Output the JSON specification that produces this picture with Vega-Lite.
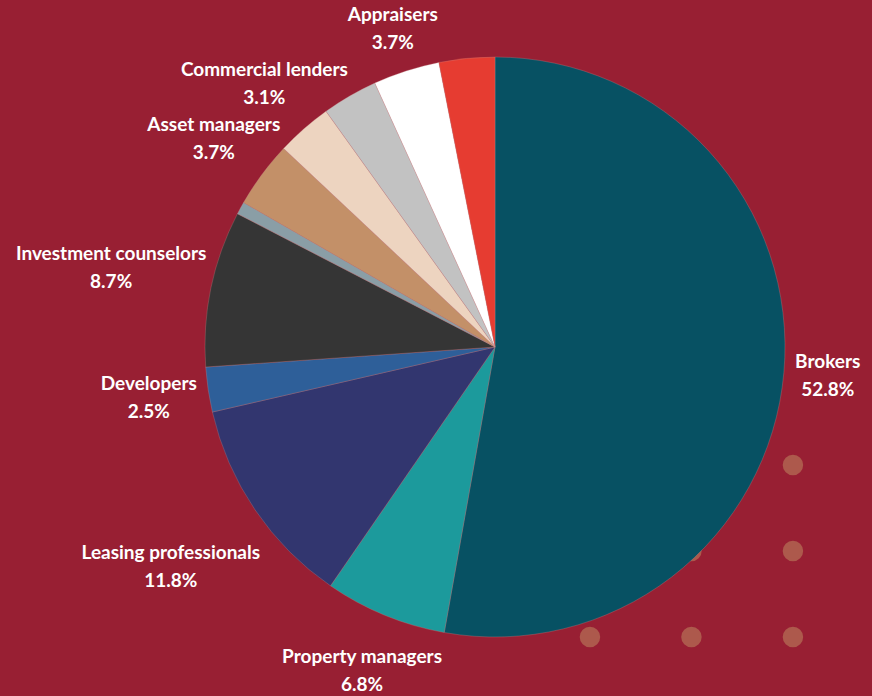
{
  "$schema": "https://vega.github.io/schema/vega-lite/v6.json",
  "width": 754,
  "height": 694,
  "autosize": {"type": "none"},
  "padding": {"left": 118, "top": 0, "right": 0, "bottom": 2},
  "background": "#981f33",
  "config": {"view": {"stroke": null}, "text": {"font": "Lato", "fontWeight": "bold", "fontSize": 19, "color": "#ffffff"}},
  "datasets": {
    "shares": [
      {"category": "Brokers", "share": 0.528, "rank": 1},
      {"category": "Property managers", "share": 0.068, "rank": 2},
      {"category": "Leasing professionals", "share": 0.118, "rank": 3},
      {"category": "Developers", "share": 0.025, "rank": 4},
      {"category": "Investment counselors", "share": 0.087, "rank": 5},
      {"category": "Unlabeled A", "share": 0.007, "rank": 6},
      {"category": "Asset managers", "share": 0.037, "rank": 7},
      {"category": "Commercial lenders", "share": 0.031, "rank": 8},
      {"category": "Unlabeled B", "share": 0.031, "rank": 9},
      {"category": "Appraisers", "share": 0.037, "rank": 10},
      {"category": "Unlabeled C", "share": 0.031, "rank": 11}
    ],
    "dots": [
      {"col": 0, "row": 0}, {"col": 1, "row": 0}, {"col": 2, "row": 0},
      {"col": 1, "row": 1}, {"col": 2, "row": 1},
      {"col": 1, "row": 2}, {"col": 2, "row": 2}
    ]
  },
  "layer": [
    {
      "data": {"name": "dots"},
      "mark": {"type": "point", "filled": true, "size": 420, "opacity": 1, "color": "#ad594c"},
      "encoding": {
        "x": {"field": "col", "type": "quantitative", "scale": {"domain": [-4.65, 2.779]}, "axis": null},
        "y": {"field": "row", "type": "quantitative", "scale": {"domain": [-0.663, 7.407]}, "axis": null}
      }
    },
    {
      "data": {"name": "shares"},
      "encoding": {
        "theta": {"field": "share", "type": "quantitative", "stack": true},
        "order": {"field": "rank", "type": "quantitative"}
      },
      "layer": [
        {
          "mark": {"type": "arc", "radius": 290, "stroke": "#c98a8a", "strokeWidth": 0.3},
          "encoding": {
            "color": {
              "field": "category", "type": "nominal", "legend": null,
              "scale": {
                "domain": ["Brokers", "Property managers", "Leasing professionals", "Developers", "Investment counselors", "Unlabeled A", "Asset managers", "Commercial lenders", "Unlabeled B", "Appraisers", "Unlabeled C"],
                "range": ["#075163", "#1c9a9c", "#32366f", "#2e5f99", "#353535", "#8a9ea6", "#c39068", "#edd4c0", "#c2c2c2", "#ffffff", "#e63c31"]
              }
            }
          }
        },
        {
          "mark": {"type": "text", "radius": 392, "dy": -14, "baseline": "middle"},
          "encoding": {"text": {"condition": {"test": "indexof(['Investment counselors','Leasing professionals'], datum.category) >= 0", "field": "category", "type": "nominal"}, "value": ""}}
        },
        {
          "mark": {"type": "text", "radius": 392, "dy": 14, "baseline": "middle"},
          "encoding": {"text": {"condition": {"test": "indexof(['Investment counselors','Leasing professionals'], datum.category) >= 0", "field": "share", "type": "quantitative", "format": ".1%"}, "value": ""}}
        },
        {
          "mark": {"type": "text", "radius": 350, "dy": -14, "baseline": "middle"},
          "encoding": {"text": {"condition": {"test": "indexof(['Asset managers','Commercial lenders','Developers','Property managers'], datum.category) >= 0", "field": "category", "type": "nominal"}, "value": ""}}
        },
        {
          "mark": {"type": "text", "radius": 350, "dy": 14, "baseline": "middle"},
          "encoding": {"text": {"condition": {"test": "indexof(['Asset managers','Commercial lenders','Developers','Property managers'], datum.category) >= 0", "field": "share", "type": "quantitative", "format": ".1%"}, "value": ""}}
        },
        {
          "mark": {"type": "text", "radius": 334, "dy": -14, "baseline": "middle"},
          "encoding": {"text": {"condition": {"test": "indexof(['Brokers','Appraisers'], datum.category) >= 0", "field": "category", "type": "nominal"}, "value": ""}}
        },
        {
          "mark": {"type": "text", "radius": 334, "dy": 14, "baseline": "middle"},
          "encoding": {"text": {"condition": {"test": "indexof(['Brokers','Appraisers'], datum.category) >= 0", "field": "share", "type": "quantitative", "format": ".1%"}, "value": ""}}
        }
      ]
    }
  ]
}
